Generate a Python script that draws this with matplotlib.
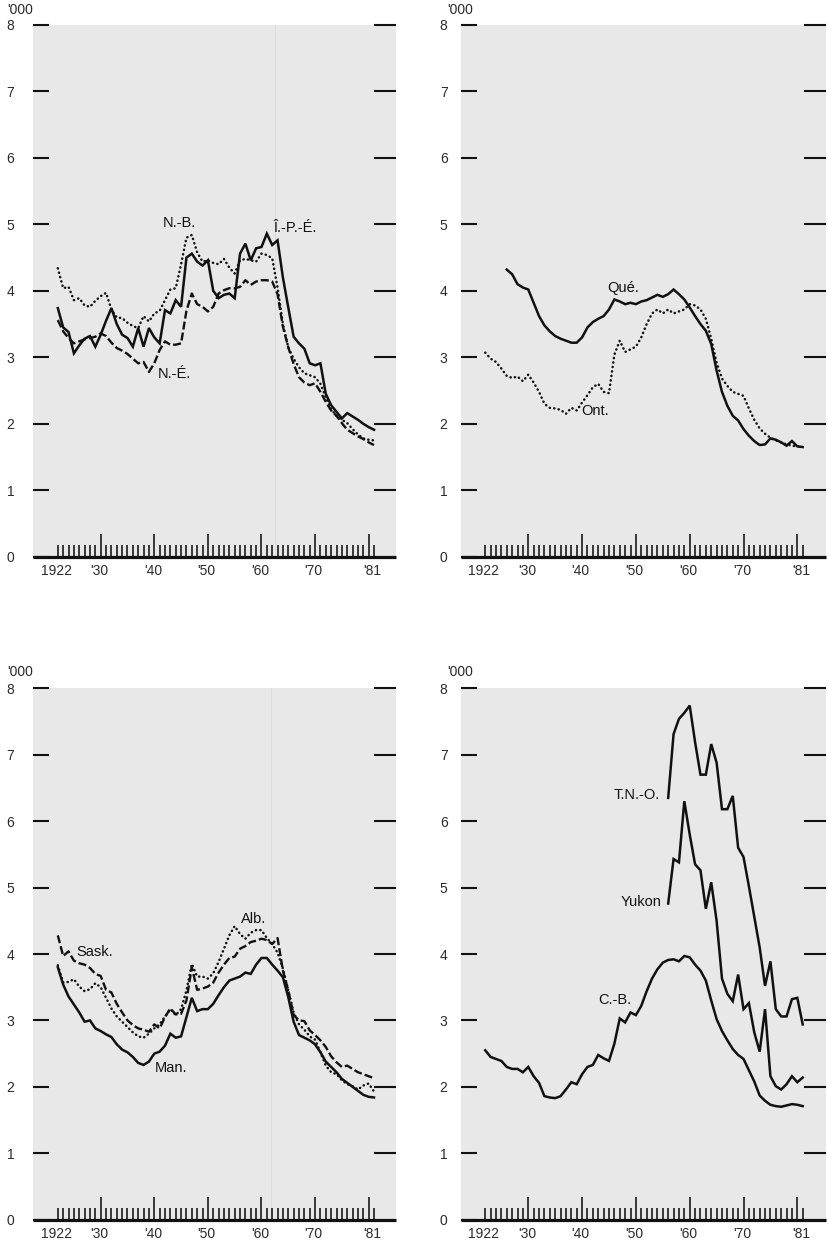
import matplotlib
matplotlib.use('Agg')
import matplotlib.pyplot as plt

plt.rcParams['font.family'] = ['Liberation Sans', 'DejaVu Sans']

# ---------------- data ('000) ----------------
years = list(range(1922, 1982))
years_que = list(range(1926, 1982))
years_north = list(range(1956, 1982))

pei = [3.74, 3.45, 3.38, 3.06, 3.18, 3.28, 3.32, 3.16, 3.34, 3.55,
       3.74, 3.50, 3.34, 3.29, 3.16, 3.44, 3.16, 3.44, 3.30, 3.21,
       3.71, 3.66, 3.86, 3.76, 4.50, 4.56, 4.44, 4.38, 4.46, 4.00,
       3.89, 3.94, 3.96, 3.89, 4.56, 4.71, 4.46, 4.64, 4.66, 4.86,
       4.69, 4.76, 4.20, 3.75, 3.31, 3.21, 3.13, 2.91, 2.88, 2.91,
       2.45, 2.28, 2.18, 2.08, 2.16, 2.11, 2.06, 2.00, 1.95, 1.91]
nb = [4.34, 4.04, 4.06, 3.86, 3.89, 3.78, 3.76, 3.85, 3.92, 3.97,
      3.72, 3.60, 3.59, 3.52, 3.47, 3.44, 3.62, 3.54, 3.66, 3.70,
      3.86, 4.02, 4.04, 4.40, 4.80, 4.84, 4.58, 4.44, 4.46, 4.42,
      4.40, 4.48, 4.35, 4.26, 4.46, 4.48, 4.46, 4.44, 4.56, 4.54,
      4.49, 4.05, 3.50, 3.15, 2.98, 2.85, 2.76, 2.73, 2.70, 2.60,
      2.40, 2.22, 2.12, 2.06, 2.01, 1.92, 1.84, 1.78, 1.76, 1.75]
ns = [3.56, 3.39, 3.29, 3.21, 3.24, 3.27, 3.29, 3.31, 3.36, 3.32,
      3.22, 3.14, 3.10, 3.05, 2.98, 2.91, 2.93, 2.78, 2.91, 3.11,
      3.24, 3.19, 3.19, 3.21, 3.70, 3.96, 3.80, 3.76, 3.69, 3.76,
      3.96, 4.01, 4.04, 4.04, 4.06, 4.16, 4.09, 4.14, 4.16, 4.16,
      4.14, 3.95, 3.46, 3.15, 2.90, 2.70, 2.62, 2.58, 2.61, 2.48,
      2.33, 2.20, 2.12, 2.01, 1.91, 1.86, 1.81, 1.77, 1.72, 1.68]

que = [4.32, 4.25, 4.10, 4.05, 4.02, 3.82, 3.62, 3.48, 3.39, 3.32,
       3.28, 3.25, 3.22, 3.22, 3.30, 3.45, 3.53, 3.58, 3.62, 3.72,
       3.87, 3.84, 3.80, 3.82, 3.80, 3.84, 3.86, 3.90, 3.94, 3.91,
       3.95, 4.02, 3.95, 3.87, 3.75, 3.62, 3.50, 3.40, 3.20, 2.80,
       2.48, 2.27, 2.12, 2.05, 1.92, 1.82, 1.74, 1.68, 1.69, 1.78,
       1.76, 1.72, 1.67, 1.74, 1.66, 1.65]
ont = [3.07, 2.98, 2.93, 2.83, 2.72, 2.69, 2.71, 2.64, 2.74, 2.62,
       2.48, 2.30, 2.24, 2.23, 2.21, 2.15, 2.24, 2.20, 2.32, 2.43,
       2.55, 2.60, 2.48, 2.46, 3.04, 3.25, 3.08, 3.12, 3.16, 3.30,
       3.50, 3.66, 3.72, 3.66, 3.72, 3.66, 3.69, 3.72, 3.80, 3.78,
       3.72, 3.58, 3.28, 2.92, 2.68, 2.57, 2.48, 2.45, 2.42, 2.23,
       2.06, 1.93, 1.85, 1.79, 1.75, 1.72, 1.69, 1.67, 1.66, 1.66]

man = [3.80, 3.54, 3.36, 3.24, 3.12, 2.98, 3.00, 2.88, 2.84, 2.79,
       2.75, 2.64, 2.56, 2.52, 2.45, 2.36, 2.33, 2.38, 2.50, 2.53,
       2.62, 2.80, 2.74, 2.76, 3.05, 3.34, 3.14, 3.17, 3.17, 3.25,
       3.38, 3.50, 3.60, 3.63, 3.66, 3.72, 3.70, 3.84, 3.94, 3.94,
       3.84, 3.75, 3.65, 3.35, 2.98, 2.78, 2.74, 2.70, 2.64, 2.52,
       2.38, 2.30, 2.22, 2.12, 2.06, 2.00, 1.94, 1.88, 1.85, 1.84]
sask = [4.28, 3.97, 4.04, 3.90, 3.86, 3.84, 3.79, 3.70, 3.67, 3.46,
        3.42, 3.25, 3.12, 3.00, 2.93, 2.88, 2.86, 2.83, 2.94, 2.88,
        3.05, 3.18, 3.09, 3.10, 3.30, 3.80, 3.46, 3.48, 3.51, 3.57,
        3.72, 3.84, 3.94, 3.96, 4.08, 4.12, 4.18, 4.20, 4.23, 4.21,
        4.15, 4.24, 3.75, 3.45, 3.08, 3.00, 2.99, 2.85, 2.78, 2.70,
        2.60, 2.46, 2.37, 2.30, 2.32, 2.27, 2.22, 2.19, 2.16, 2.13]
alb = [3.83, 3.57, 3.58, 3.62, 3.51, 3.44, 3.47, 3.56, 3.50, 3.34,
       3.18, 3.06, 2.98, 2.90, 2.82, 2.76, 2.74, 2.80, 2.88, 2.94,
       3.06, 3.17, 3.08, 3.17, 3.45, 3.85, 3.66, 3.66, 3.63, 3.71,
       3.88, 4.08, 4.28, 4.42, 4.30, 4.23, 4.32, 4.36, 4.36, 4.24,
       4.15, 4.02, 3.78, 3.45, 3.12, 2.94, 2.86, 2.76, 2.71, 2.52,
       2.32, 2.22, 2.19, 2.10, 2.04, 2.01, 1.96, 2.02, 2.05, 1.93]

bc = [2.55, 2.45, 2.42, 2.39, 2.30, 2.27, 2.27, 2.22, 2.30, 2.16,
      2.06, 1.86, 1.84, 1.83, 1.86, 1.96, 2.07, 2.04, 2.19, 2.30,
      2.33, 2.48, 2.43, 2.39, 2.65, 3.03, 2.97, 3.12, 3.08, 3.22,
      3.44, 3.63, 3.77, 3.87, 3.91, 3.92, 3.89, 3.97, 3.95, 3.84,
      3.75, 3.60, 3.30, 3.02, 2.84, 2.70, 2.57, 2.48, 2.42, 2.25,
      2.08, 1.87, 1.79, 1.73, 1.71, 1.70, 1.72, 1.74, 1.73, 1.71]
yukon = [4.76, 5.43, 5.38, 6.30, 5.80, 5.35, 5.26, 4.68, 5.08, 4.50,
         3.63, 3.40, 3.29, 3.69, 3.17, 3.26, 2.82, 2.53, 3.17, 2.16,
         2.01, 1.96, 2.04, 2.16, 2.07, 2.14]
nwt = [6.35, 7.31, 7.54, 7.63, 7.74, 7.19, 6.70, 6.70, 7.16, 6.88,
       6.18, 6.18, 6.38, 5.60, 5.46, 5.02, 4.56, 4.10, 3.52, 3.89,
       3.17, 3.06, 3.06, 3.32, 3.34, 2.94]

ytick_values = [0, 1, 2, 3, 4, 5, 6, 7, 8]
xtick_years = [1922, 1930, 1940, 1950, 1960, 1970, 1981]
xtick_labels = ['1922', "'30", "'40", "'50", "'60", "'70", "'81"]
decades = [1930, 1940, 1950, 1960, 1970, 1980]

# ---------------- styles ----------------
SOLID = dict(linestyle='-', lw=1.8, color='#111111', solid_joinstyle='miter')
DOTTED = dict(linestyle=(0, (0.1, 1.7)), lw=1.8, color='#111111',
              dash_capstyle='round')
DASHED = dict(linestyle=(0, (3.4, 1.3)), lw=1.7, color='#111111')

W, H = 829, 1242
fig = plt.figure(figsize=(W / 100, H / 100), dpi=100)
fig.patch.set_facecolor('white')

BG = '#e8e8e8'
TXT = '#2a2a2a'


def rect(x0, x1, ytop, ybot):
    return [x0 / W, 1 - ybot / H, (x1 - x0) / W, (ybot - ytop) / H]


def setup(ax, xlim, label_pad, artifact=None):
    ax.set_facecolor(BG)
    ax.set_xlim(*xlim)
    ax.set_ylim(0, 8)
    for s in ('top', 'left', 'right'):
        ax.spines[s].set_visible(False)
    ax.spines['bottom'].set_linewidth(2.3)
    ax.spines['bottom'].set_color('#111111')
    ax.spines['bottom'].set_capstyle('butt')
    if artifact is not None:
        ax.axvline(artifact, color='#dcdcdc', lw=0.6, zorder=0.5)
    # y ticks (left with labels)
    ax.set_yticks(ytick_values)
    ax.set_yticklabels([str(v) for v in ytick_values])
    ax.tick_params(axis='y', direction='in', length=11.5, width=1.5,
                   color='#111111', labelsize=10, labelcolor=TXT,
                   pad=label_pad, left=True, right=False)
    sec = ax.secondary_yaxis('right')
    sec.set_yticks(ytick_values[1:])
    sec.tick_params(axis='y', direction='in', length=15.5, width=1.5,
                    color='#111111', labelright=False)
    sec.spines['right'].set_visible(False)
    # x labels
    ax.set_xticks([y - 0.25 for y in xtick_years])
    ax.set_xticklabels(xtick_labels)
    ax.tick_params(axis='x', length=0, pad=5, labelsize=10, labelcolor=TXT)
    # yearly tick marks on baseline
    hs = [0.34 if y in decades else 0.17 for y in years]
    ax.vlines(years, 0, hs, colors='#111111', lw=1.15, zorder=3)


LX = (1917.37, 1985.1)
RX = (1917.44, 1985.33)

ax1 = fig.add_axes(rect(33, 396, 25, 556.7))
ax2 = fig.add_axes(rect(460.7, 826, 25, 556.7))
ax3 = fig.add_axes(rect(33, 396, 688.3, 1219.7))
ax4 = fig.add_axes(rect(460.7, 826, 688.3, 1219.7))

setup(ax1, LX, 13.5, artifact=1962.5)
setup(ax2, RX, 9.5)
setup(ax3, LX, 13.5, artifact=1961.7)
setup(ax4, RX, 9.5)

# Panel 1: Atlantic
ax1.plot(years, nb, **DOTTED)
ax1.plot(years, ns, **DASHED)
ax1.plot(years, pei, **SOLID)
# Panel 2
ax2.plot(years, ont, **DOTTED)
ax2.plot(years_que, que, **SOLID)
# Panel 3: Prairies
ax3.plot(years, alb, **DOTTED)
ax3.plot(years, sask, **DASHED)
ax3.plot(years, man, **SOLID)
# Panel 4
ax4.plot(years, bc, **SOLID)
ax4.plot(years_north, yukon, **SOLID)
ax4.plot(years_north, nwt, **SOLID)

LAB = dict(fontsize=10.5, color='#111111', va='center')
ax1.text(1941.6, 5.02, 'N.-B.', ha='left', **LAB)
ax1.text(1940.6, 2.75, 'N.-É.', ha='left', **LAB)
ax1.text(1962.2, 4.95, 'Î.-P.-É.', ha='left', **LAB)
ax2.text(1944.6, 4.05, 'Qué.', ha='left', **LAB)
ax2.text(1939.8, 2.19, 'Ont.', ha='left', **LAB)
ax3.text(1925.4, 4.03, 'Sask.', ha='left', **LAB)
ax3.text(1956.1, 4.53, 'Alb.', ha='left', **LAB)
ax3.text(1940.1, 2.29, 'Man.', ha='left', **LAB)
ax4.text(1954.4, 6.40, 'T.N.-O.', ha='right', **LAB)
ax4.text(1954.7, 4.79, 'Yukon', ha='right', **LAB)
ax4.text(1943.0, 3.30, 'C.-B.', ha='left', **LAB)

# '000 unit labels
for (xp, yp) in [(7, 10), (447, 10), (7, 672), (447, 672)]:
    fig.text(xp / W, 1 - yp / H, "'000", fontsize=10, color=TXT,
             ha='left', va='center')

fig.savefig('out.png', dpi=100, facecolor='white')
